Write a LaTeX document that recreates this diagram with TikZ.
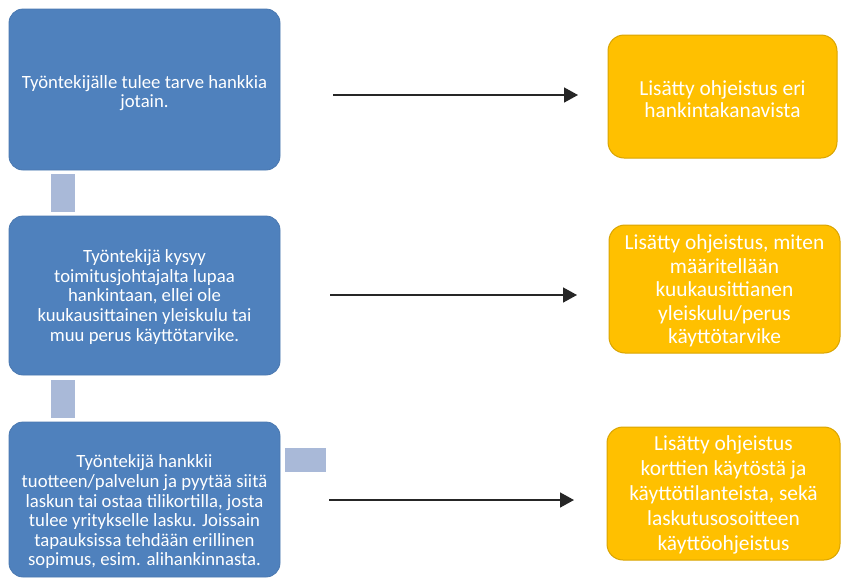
\documentclass[tikz,border=0pt]{standalone}
\usepackage{fontspec}
\setmainfont{Carlito}
\usetikzlibrary{arrows.meta}
\definecolor{stepblue}{HTML}{4F81BD}
\definecolor{stepedge}{HTML}{4A78B0}
\definecolor{linkblue}{HTML}{A9B9D8}
\definecolor{notefill}{HTML}{FFC000}
\definecolor{noteedge}{HTML}{D9A400}
\tikzset{
  stepbox/.style={draw=stepedge, line width=0.8pt, fill=stepblue, rounded corners=14pt, inner sep=0pt},
  notebox/.style={draw=noteedge, line width=1pt, fill=notefill, rounded corners=16pt, inner sep=0pt},
  linkbox/.style={fill=linkblue, inner sep=0pt},
  steptext/.style={text=white, align=center, font=\fontsize{18.7}{19.6}\selectfont, inner sep=0pt},
  notetext/.style={text=white, align=center, inner sep=0pt},
  flowarrow/.style={draw=black!85, line width=1.6pt, -{Triangle[length=14pt,width=15pt]}}
}
\begin{document}
\begin{tikzpicture}[x=1pt,y=-1pt]
\useasboundingbox (0,0) rectangle (841,579);
% blue step boxes
\node[stepbox, minimum width=271pt, minimum height=161pt] (b1) at (144.5,89.5) {};
\node[stepbox, minimum width=271pt, minimum height=159pt] (b2) at (144.5,295.5) {};
\node[stepbox, minimum width=271pt, minimum height=155pt] (b3) at (144.5,499.5) {};
% link squares
\node[linkbox, minimum width=24pt, minimum height=38pt] (c1) at (63,193) {};
\node[linkbox, minimum width=24pt, minimum height=38pt] (c2) at (63,399) {};
\node[linkbox, minimum width=41pt, minimum height=24pt] (c3) at (305.5,460) {};
% step texts
\node[steptext] (t1) at (144.5,93) {Työntekijälle tulee tarve hankkia\\jotain.};
\node[steptext] (t2) at (144.5,297) {Työntekijä kysyy\\toimitusjohtajalta lupaa\\hankintaan, ellei ole\\kuukausittainen yleiskulu tai\\muu perus käyttötarvike.};
\node[steptext] (t3) at (144.5,512) {Työntekijä hankkii\\tuotteen/palvelun ja pyytää siitä\\laskun tai ostaa tilikortilla, josta\\tulee yritykselle lasku. Joissain\\tapauksissa tehdään erillinen\\sopimus, esim. alihankinnasta.};
% orange note boxes
\node[notebox, minimum width=229pt, minimum height=123pt] (o1) at (722.5,96.5) {};
\node[notebox, minimum width=231pt, minimum height=128pt] (o2) at (724.5,289) {};
\node[notebox, minimum width=233pt, minimum height=133pt] (o3) at (723.5,493.5) {};
\node[notetext, font=\fontsize{21.4}{21.9}\selectfont] (n1) at (722.5,99) {Lisätty ohjeistus eri\\hankintakanavista};
\node[notetext, font=\fontsize{21.4}{23.6}\selectfont] (n2) at (724.5,291) {Lisätty ohjeistus, miten\\määritellään\\kuukausittianen\\yleiskulu/perus\\käyttötarvike};
\node[notetext, font=\fontsize{21.4}{25}\selectfont] (n3) at (723.5,495) {Lisätty ohjeistus\\korttien käytöstä ja\\käyttötilanteista, sekä\\laskutusosoitteen\\käyttöohjeistus};
% arrows
\coordinate (a1s) at (333,95); \coordinate (a1e) at (578,95);
\coordinate (a2s) at (330,295); \coordinate (a2e) at (577,295);
\coordinate (a3s) at (329,500); \coordinate (a3e) at (574,500);
\draw[flowarrow] (a1s) -- (a1e);
\draw[flowarrow] (a2s) -- (a2e);
\draw[flowarrow] (a3s) -- (a3e);
\end{tikzpicture}
\end{document}
